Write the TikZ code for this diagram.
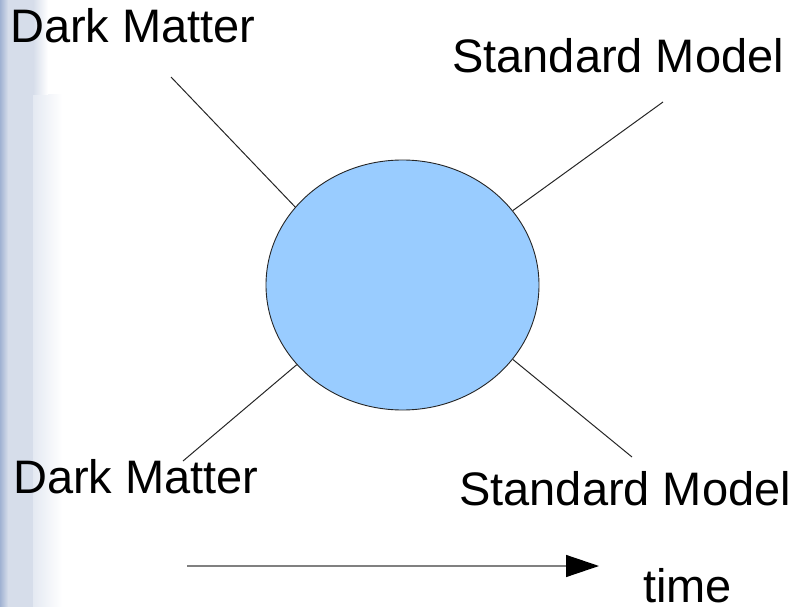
\documentclass[tikz,border=0pt]{standalone}
\usepackage{fontspec}
\setmainfont{Liberation Sans}
\usetikzlibrary{shapes.geometric,arrows.meta}
\definecolor{blobfill}{RGB}{153,204,255}
\definecolor{stripdark}{RGB}{160,178,210}
\definecolor{stripmid}{RGB}{214,221,234}
\definecolor{striplight}{RGB}{228,233,242}
\tikzset{
  lbl/.style={anchor=base west, inner sep=0pt, font=\fontsize{47}{56}\selectfont},
  leg/.style={line width=1pt, draw=black!85},
  blobstyle/.style={ellipse, draw=black!85, line width=0.9pt, fill=blobfill,
    minimum width=273pt, minimum height=250pt, inner sep=0pt},
  timearrow/.style={draw=black!50, line width=1.4pt,
    -{Triangle[length=33pt,width=22pt,color=black]}}
}
\begin{document}
\begin{tikzpicture}[x=1pt,y=-1pt]
\useasboundingbox (0,0) rectangle (798,607);
% background decoration at the left edge
\shade[left color=stripdark, right color=stripmid] (0,0) rectangle (8,607);
\fill[stripmid] (8,0) rectangle (33,607);
\shade[left color=striplight, right color=white] (33,95) rectangle (62,607);
\shade[left color=stripmid, right color=white] (33,0) rectangle (48,95);
% blob
\node[blobstyle] (blob) at (402.5,285) {};
% labels
\node[lbl] (dmtop) at (10,43) {Dark Matter};
\node[lbl] (smtop) at (452,73) {Standard Model};
\node[lbl] (dmbot) at (13,493) {Dark Matter};
\node[lbl] (smbot) at (459,505) {Standard Model};
\node[lbl] (time) at (643,602) {time};
% leg end points
\coordinate (ul) at (171,77);
\coordinate (ur) at (663,102);
\coordinate (ll) at (183,461);
\coordinate (lr) at (632,457);
\draw[leg] (ul) -- (blob.144.5);
\draw[leg] (ur) -- (blob.34.4);
\draw[leg] (ll) -- (blob.217.5);
\draw[leg] (lr) -- (blob.326.4);
% time arrow
\coordinate (tstart) at (187,566);
\coordinate (tend) at (599,566);
\draw[timearrow] (tstart) -- (tend);
\end{tikzpicture}
\end{document}
